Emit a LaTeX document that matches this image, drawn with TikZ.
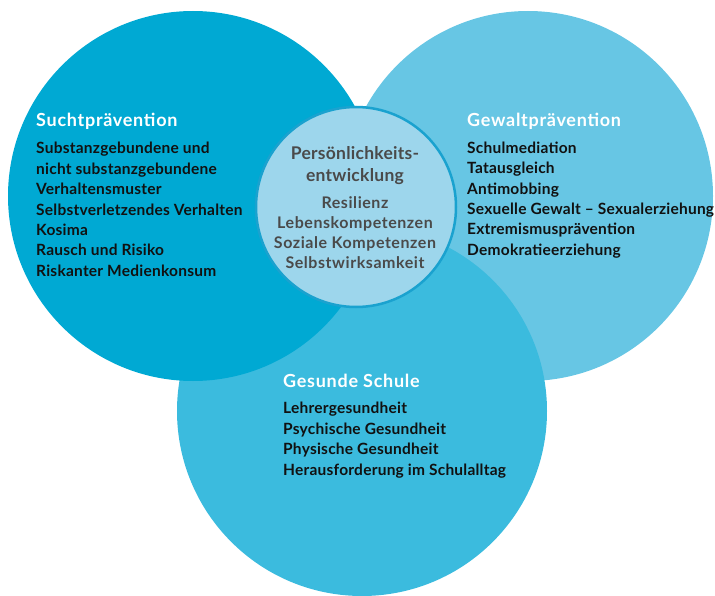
\documentclass[tikz,border=0pt]{standalone}
\usepackage{fontspec}
\setmainfont{Lato}
\newfontfamily\titlefont[LetterSpace=4]{Lato}
\newfontfamily\itemfont[LetterSpace=1.5]{Lato}
\newfontfamily\citemfont[LetterSpace=3.5]{Lato}
\definecolor{cleft}{HTML}{00A9D3}
\definecolor{cright}{HTML}{67C6E4}
\definecolor{cbottom}{HTML}{3BBBDE}
\definecolor{ccenter}{HTML}{9DD6EC}
\definecolor{cborder}{HTML}{1AA2CF}
\definecolor{ctext}{HTML}{111111}
\definecolor{cgrey}{HTML}{4A4A4A}
\tikzset{
  title/.style={anchor=base west,inner sep=0pt,text=white,font=\titlefont\fontsize{18}{20}\selectfont\bfseries},
  item/.style={anchor=base west,inner sep=0pt,text=ctext,font=\itemfont\fontsize{15.5}{18}\selectfont\bfseries},
  ctitle/.style={anchor=base,inner sep=0pt,text=cgrey,font=\itemfont\fontsize{17.5}{20}\selectfont\bfseries},
  citem/.style={anchor=base,inner sep=0pt,text=cgrey,font=\citemfont\fontsize{16}{18}\selectfont\bfseries}
}
\begin{document}
\begin{tikzpicture}[x=1pt,y=-1pt]
\useasboundingbox (0,0) rectangle (715,596);
\clip (0,0) rectangle (715,596);
% circles
\fill[cright] (528,196) circle[radius=185pt];
\fill[cbottom] (362,411) circle[radius=185pt];
\fill[cleft] (193,196) circle[radius=185pt];
\filldraw[fill=ccenter,draw=cborder,line width=2.5pt] (356,207) circle[radius=100pt];
% left block
\node[title] (ltitle) at (36,127) {Suchtprävention};
\foreach \t [count=\i] in {Substanzgebundene und,nicht substanzgebundene,Verhaltensmuster,Selbstverletzendes Verhalten,Kosima,Rausch und Risiko,Riskanter Medienkonsum}
  \node[item] (l\i) at (36,{133.5+20.4*\i}) {\t};
% right block
\node[title] (rtitle) at (467,127) {Gewaltprävention};
\foreach \t [count=\i] in {Schulmediation,Tatausgleich,Antimobbing,Sexuelle Gewalt – Sexualerziehung,Extremismusprävention,Demokratieerziehung}
  \node[item] (r\i) at (467,{133+20.4*\i}) {\t};
% bottom block
\node[title] (btitle) at (283,387) {Gesunde Schule};
\foreach \t [count=\i] in {Lehrergesundheit,Psychische Gesundheit,Physische Gesundheit,Herausforderung im Schulalltag}
  \node[item] (b\i) at (283,{393+20.6*\i}) {\t};
% center block
\node[ctitle] (c1) at (355,160) {Persönlichkeits-};
\node[ctitle] (c2) at (355,182) {entwicklung};
\foreach \t [count=\i] in {Resilienz,Lebenskompetenzen,Soziale Kompetenzen,Selbstwirksamkeit}
  \node[citem] (ci\i) at (355,{189+20*\i}) {\t};
\end{tikzpicture}
\end{document}
